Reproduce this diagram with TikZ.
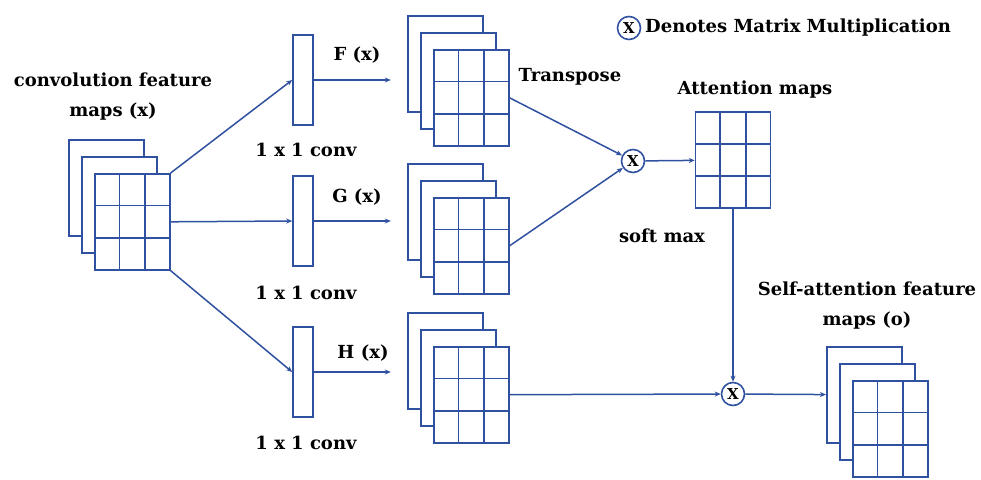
\documentclass[tikz,border=0pt]{standalone}
\usepackage{fontspec}
\setmainfont{DejaVu Serif}
\usetikzlibrary{calc,arrows.meta}

\definecolor{fmblue}{RGB}{48,80,160}

\tikzset{
  sheet/.style={draw=fmblue, fill=white, line width=1.6pt, minimum width=75pt, minimum height=96pt, inner sep=0pt},
  cell/.style={draw=fmblue, line width=1.6pt},
  convbox/.style={draw=fmblue, fill=white, line width=1.6pt, minimum width=20pt, minimum height=90pt, inner sep=0pt},
  mult/.style={circle, draw=fmblue, fill=white, line width=1.6pt, minimum size=23pt, inner sep=0pt, font=\bfseries\fontsize{15}{15}\selectfont},
  link/.style={draw=fmblue, line width=1.5pt, -{Stealth[length=6pt,width=5pt]}},
  lbl/.style={font=\bfseries\fontsize{18}{30}\selectfont, align=center, inner sep=0pt},
}

% 3 x 3 cells inside a node
\newcommand{\cells}[1]{%
  \foreach \f in {1/3,2/3} {
    \draw[cell] ($(#1.north west)!\f!(#1.north east)$) -- ($(#1.south west)!\f!(#1.south east)$);
    \draw[cell] ($(#1.north west)!\f!(#1.south west)$) -- ($(#1.north east)!\f!(#1.south east)$);
  }}

% stack of three maps, the front one is named #1 and sits with its top left at #2
\newcommand{\featmap}[2]{%
  \node[sheet, anchor=north west] (#1-b) at ($#2+(-26,-34)$) {};
  \node[sheet, anchor=north west] (#1-m) at ($#2+(-13,-17)$) {};
  \node[sheet, anchor=north west] (#1) at #2 {};
  \cells{#1}}

\begin{document}
\begin{tikzpicture}[x=1pt,y=-1pt]
    \useasboundingbox (0,0) rectangle (981,479);

    % input
    \featmap{in}{(94,173)}
    \node[lbl] (inlbl) at (113,97) {convolution feature\\maps (x)};

    % 1 x 1 convolutions
    \node[convbox] (c1) at (303,80) {};
    \node[convbox] (c2) at (303,221) {};
    \node[convbox] (c3) at (303,372) {};
    \node[lbl] (c1lbl) at (306,150) {1 x 1 conv};
    \node[lbl] (c2lbl) at (306,293) {1 x 1 conv};
    \node[lbl] (c3lbl) at (306,443) {1 x 1 conv};

    \draw[link] (in.north east) -- (c1.west);
    \draw[link] (in.east) -- (c2.west);
    \draw[link] (in.south east) -- (c3.west);

    % F, G, H
    \draw[link] (c1.east) -- ++(77,0);
    \draw[link] (c2.east) -- ++(77,0);
    \draw[link] (c3.east) -- ++(77,0);
    \node[lbl] (flbl) at (357,55) {F (x)};
    \node[lbl] (glbl) at (357,197) {G (x)};
    \node[lbl] (hlbl) at (363,353) {H (x)};

    \featmap{fm}{(433,49)}
    \featmap{gm}{(433,197)}
    \featmap{hm}{(433,346)}

    % attention
    \node[mult] (m1) at (633,161) {X};
    \draw[link] (fm.east) -- (m1);
    \draw[link] (gm.east) -- (m1);
    \node[lbl] (tlbl) at (570,77) {Transpose};

    \node[sheet] (att) at (733,160) {};
    \cells{att}
    \node[lbl] (attlbl) at (755,90) {Attention maps};
    \node[lbl] (smlbl) at (662,236) {soft max};
    \draw[link] (m1) -- (att);

    % output
    \node[mult] (m2) at (733,394) {X};
    \draw[link] (att) -- (m2);
    \draw[link] (hm) -- (m2);

    \featmap{om}{(852,380)}
    \draw[link] (m2) -- (om-b);
    \node[lbl] (omlbl) at (867,306) {Self-attention feature\\maps (o)};

    % key
    \node[mult] (key) at (629,28) {X};
    \node[lbl, anchor=west] (keylbl) at (645,28) {Denotes Matrix Multiplication};

\end{tikzpicture}
\end{document}
